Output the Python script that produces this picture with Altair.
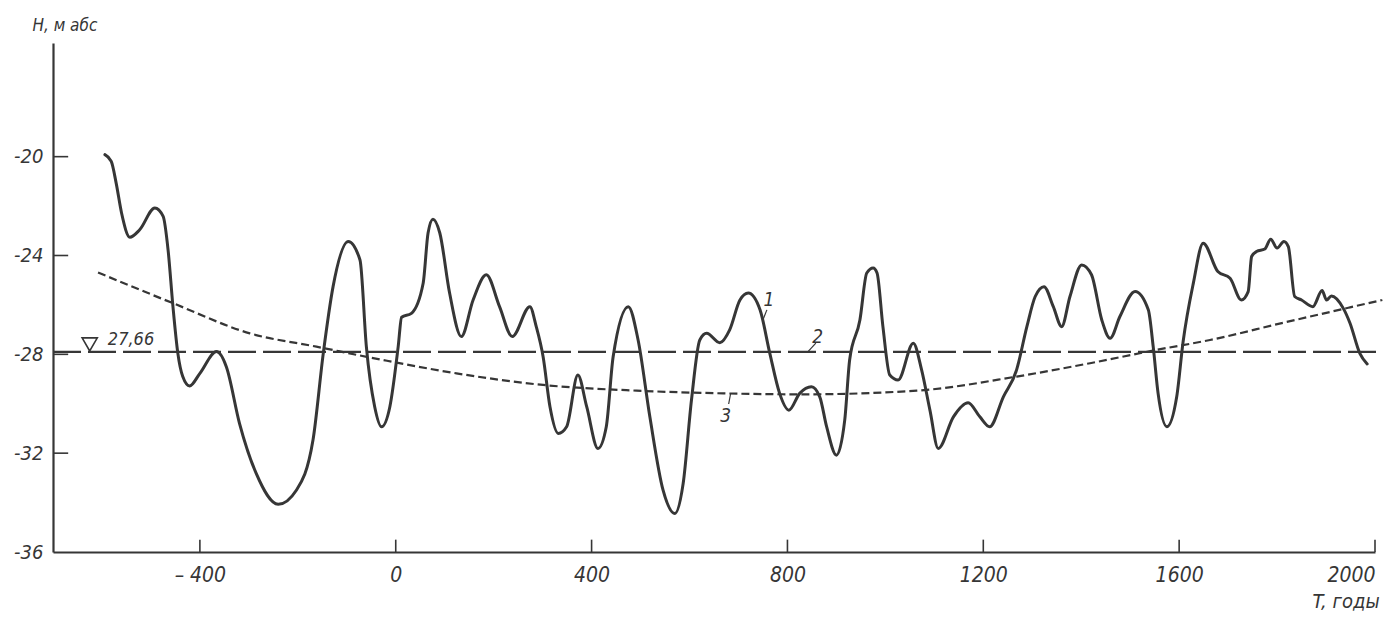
import altair as alt
import pandas as pd

# ---- data ----
years1 = [-594, -581, -571, -560, -543, -523, -492, -475, -465, -455, -445, -435, -421, -400,
          -366, -346, -319, -285, -240, -203, -169, -148, -128, -97, -73, -60, -43, -29, -12,
          5, 12, 32, 56, 66, 76, 90, 110, 134, 158, 185, 212, 238, 274, 287, 301, 315, 332,
          349, 372, 390, 413, 430, 444, 475, 495, 519, 546, 570, 587, 604, 621, 635, 662,
          682, 703, 720, 744, 764, 784, 803, 825, 849, 866, 880, 900, 917, 927, 948, 962,
          975, 983, 995, 1009, 1026, 1057, 1074, 1091, 1108, 1139, 1169, 1193, 1213, 1241,
          1268, 1289, 1306, 1324, 1343, 1360, 1377, 1401, 1421, 1442, 1459, 1479, 1510,
          1537, 1547, 1557, 1575, 1595, 1608, 1629, 1649, 1679, 1704, 1727, 1741, 1748,
          1758, 1775, 1787, 1800, 1814, 1823, 1836, 1850, 1873, 1892, 1901, 1911, 1935,
          1949, 1969, 1984]
levels1 = [-19.92, -20.19, -21.07, -22.28, -23.26, -22.96, -22.08, -22.42, -23.77, -26.07,
           -27.96, -28.9, -29.28, -28.77, -27.89, -28.5, -30.8, -32.82, -34.07, -33.5,
           -31.47, -27.96, -25.26, -23.43, -24.18, -27.69, -30.12, -30.93, -30.12,
           -27.69, -26.5, -26.34, -25.12, -23.09, -22.53, -23.09, -25.52, -27.28, -25.8,
           -24.78, -26.07, -27.28, -26.07, -26.88, -28.1, -30.12, -31.2, -30.93, -28.84,
           -30.12, -31.81, -30.93, -28.1, -26.07, -27.42, -30.53, -33.5, -34.44, -33.23,
           -29.85, -27.42, -27.15, -27.53, -27.01, -25.8, -25.52, -26.2, -27.96, -29.58,
           -30.26, -29.58, -29.31, -29.72, -30.93, -32.08, -30.66, -28.23, -26.61, -24.71,
           -24.51, -24.71, -26.88, -28.84, -29.04, -27.55, -28.63, -30.26, -31.81, -30.53,
           -29.96, -30.53, -30.93, -29.72, -28.63, -26.88, -25.66, -25.26, -26.07, -26.88,
           -25.66, -24.38, -24.78, -26.61, -27.35, -26.47, -25.46, -26.2, -27.69, -29.58,
           -30.93, -29.72, -27.5, -25.12, -23.5, -24.65, -24.92, -25.8, -25.46, -24.04,
           -23.84, -23.74, -23.34, -23.7, -23.43, -23.64, -25.66, -25.8, -26.07, -25.42,
           -25.8, -25.64, -26.13, -26.74, -27.96, -28.39]

years2 = [-700, 2015]
levels2 = [-27.9, -27.9]

years3 = [-608, -455, -298, -162, -26, 124, 301, 492, 669, 832, 1064, 1268, 1418, 1554,
          1663, 1813, 1949, 2015]
levels3 = [-24.69, -25.93, -27.15, -27.69, -28.23, -28.77, -29.24, -29.47, -29.58, -29.62,
           -29.47, -28.9, -28.36, -27.82, -27.42, -26.72, -26.1, -25.8]

x_ticks = [-400, 0, 400, 800, 1200, 1600, 2000]
y_ticks = [-20, -24, -28, -32, -36]

label_text = ["1", "2", "3"]
label_year = [762, 862, 674]
label_level = [-26.05, -27.54, -30.74]

leader_year = [758, 858, 684]
leader_level = [-26.2, -27.55, -29.58]
leader_year2 = [750, 842, 680]
leader_level2 = [-26.6, -27.89, -30.01]

mark_year = [-625]
mark_level = [-27.6]
level_text = ["27,66"]
level_text_year = [-588]
level_text_level = [-27.62]

assert len(years1) == len(levels1)

# ---- styling ----
INK = "#363636"
FONT = "Liberation Sans Narrow, DejaVu Sans Condensed, Liberation Sans, sans-serif"

xscale = alt.Scale(domain=[-700, 2000], nice=False, zero=False)
yscale = alt.Scale(domain=[-36, -15.4], nice=False, zero=False)

xaxis = alt.Axis(values=x_ticks, ticks=False, grid=False, domainColor=INK, domainWidth=2.2,
                 labelExpr="datum.value < 0 ? '\u2013 ' + abs(datum.value) : '' + datum.value",
                 labelFont=FONT, labelFontSize=21, labelFontStyle="italic", labelColor=INK,
                 labelPadding=12, labelBaseline="top",
                 title="T,  годы", titleX=1259, titleY=55, titleAlign="left",
                 titleBaseline="alphabetic", titleAngle=0, titleFont=FONT, titleFontSize=20,
                 titleFontStyle="italic", titleFontWeight="normal", titleColor=INK)
yaxis = alt.Axis(values=y_ticks, ticks=False, grid=False, domainColor=INK, domainWidth=2.2,
                 labelExpr="'-' + abs(datum.value)",
                 labelFont=FONT, labelFontSize=20, labelFontStyle="italic", labelColor=INK,
                 labelPadding=10,
                 title="H, м  абс", titleX=-21, titleY=-13, titleAlign="left",
                 titleBaseline="alphabetic", titleAngle=0, titleFont=FONT, titleFontSize=17,
                 titleFontStyle="italic", titleFontWeight="normal", titleColor=INK)

X = alt.X("year:Q", scale=xscale, axis=xaxis)
Y = alt.Y("val:Q", scale=yscale, axis=yaxis)

df1 = pd.DataFrame({"year": years1, "val": levels1})
df2 = pd.DataFrame({"year": years2, "val": levels2})
df3 = pd.DataFrame({"year": years3, "val": levels3})

curve1 = alt.Chart(df1).mark_line(color=INK, strokeWidth=3.0, interpolate="monotone",
                                  strokeJoin="round", strokeCap="round").encode(x=X, y=Y)
line2 = alt.Chart(df2).mark_line(color=INK, strokeWidth=2.2, strokeDash=[28, 7]).encode(x=X, y=Y)
line3 = alt.Chart(df3).mark_line(color=INK, strokeWidth=2.2, strokeDash=[8, 4],
                                 interpolate="monotone").encode(x=X, y=Y)

xt = pd.DataFrame({"year": x_ticks, "val": [-36] * len(x_ticks), "val2": [-35.5] * len(x_ticks)})
yt = pd.DataFrame({"year": [-700] * 4, "year2": [-669] * 4, "val": y_ticks[:4]})
xtick_rules = alt.Chart(xt).mark_rule(color=INK, strokeWidth=1.6).encode(
    x=X, y=Y, y2="val2:Q")
ytick_rules = alt.Chart(yt).mark_rule(color=INK, strokeWidth=1.6).encode(
    x=X, x2="year2:Q", y=Y)

tri = alt.Chart(pd.DataFrame({"year": mark_year, "val": mark_level})).mark_point(
    shape="triangle-down", filled=False, color=INK, size=230, strokeWidth=1.6, opacity=1
).encode(x=X, y=Y)

lvl_txt = alt.Chart(pd.DataFrame({"year": level_text_year, "val": level_text_level,
                                  "t": level_text})).mark_text(
    align="left", baseline="alphabetic", font=FONT, fontSize=18, fontStyle="italic", color=INK
).encode(x=X, y=Y, text="t:N")

num_txt = alt.Chart(pd.DataFrame({"year": label_year, "val": label_level,
                                  "t": label_text})).mark_text(
    align="center", baseline="alphabetic", font=FONT, fontSize=19, fontStyle="italic", color=INK
).encode(x=X, y=Y, text="t:N")

leaders = alt.Chart(pd.DataFrame({"year": leader_year, "val": leader_level,
                                  "year2": leader_year2, "val2": leader_level2})).mark_rule(
    color=INK, strokeWidth=1.2).encode(x=X, y=Y, x2="year2:Q", y2="val2:Q")

chart = alt.layer(line3, line2, curve1, xtick_rules, ytick_rules, tri, lvl_txt, num_txt,
                  leaders).properties(
    width=1322, height=509,
    autosize=alt.AutoSizeParams(type="none"),
    padding={"left": 45, "top": 35, "right": 15, "bottom": 59},
    background="white",
).configure_view(stroke=None)

chart.save("out.html", embed_options={"renderer": "svg", "actions": False})
